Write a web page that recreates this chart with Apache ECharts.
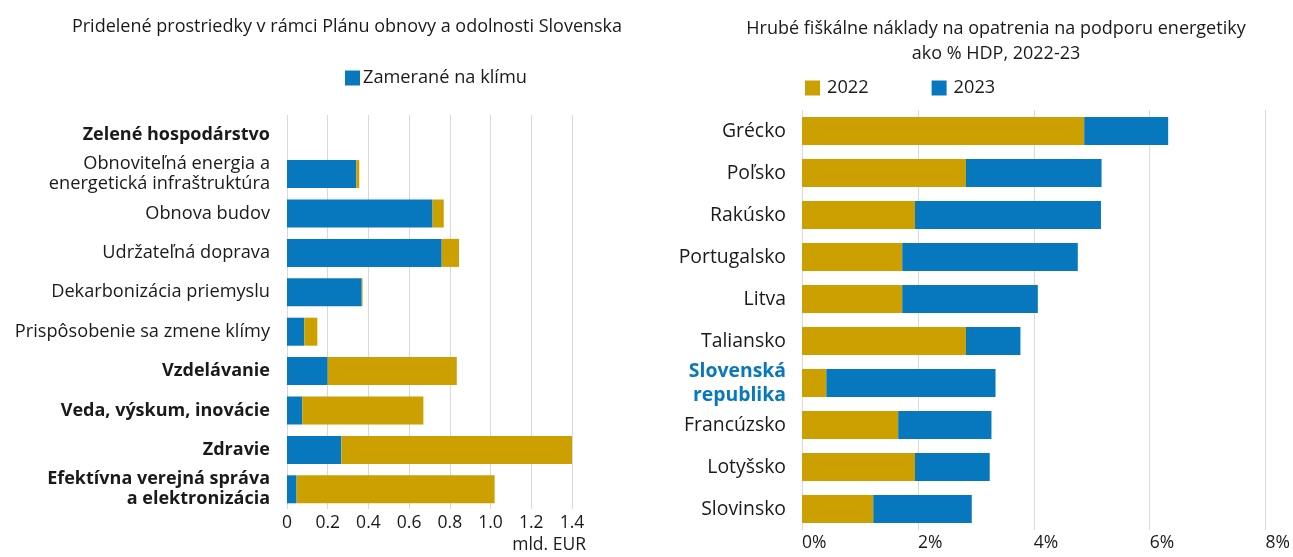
<!DOCTYPE html>
<html>
<head>
<meta charset="utf-8">
<script src="https://cdn.jsdelivr.net/npm/echarts@6/dist/echarts.min.js"></script>
<style>
  html, body { margin: 0; padding: 0; background: #fff; }
  #chart { width: 1293px; height: 557px; }
</style>
</head>
<body>
<div id="chart"></div>
<script>
// ľavý graf - Plán obnovy
const plnKategorie = [
  'Zelené hospodárstvo',
  'Obnoviteľná energia a\nenergetická infraštruktúra',
  'Obnova budov',
  'Udržateľná doprava',
  'Dekarbonizácia priemyslu',
  'Prispôsobenie sa zmene klímy',
  'Vzdelávanie',
  'Veda, výskum, inovácie',
  'Zdravie',
  'Efektívna verejná správa\na elektronizácia'
]
const tucneKategorie = ['Zelené hospodárstvo', 'Vzdelávanie', 'Veda, výskum, inovácie', 'Zdravie', 'Efektívna verejná správa\na elektronizácia']
const klima = [null, 0.34, 0.715, 0.76, 0.367, 0.085, 0.2, 0.075, 0.267, 0.047]
const ostatne = [null, 0.015, 0.055, 0.085, 0.004, 0.064, 0.634, 0.595, 1.135, 0.973]
const plnTicks = [0, 0.2, 0.4, 0.6, 0.8, 1.0, 1.2, 1.4]

// pravý graf - energetika
const krajiny = ['Grécko', 'Poľsko', 'Rakúsko', 'Portugalsko', 'Litva', 'Taliansko', 'Slovenská\nrepublika', 'Francúzsko', 'Lotyšsko', 'Slovinsko']
const rok2022 = [4.87, 2.83, 1.95, 1.73, 1.73, 2.83, 0.42, 1.66, 1.95, 1.23]
const rok2023 = [1.45, 2.34, 3.21, 3.03, 2.34, 0.94, 2.92, 1.61, 1.29, 1.70]
const energTicks = [0, 2, 4, 6, 8]

const BLUE = '#0878be'
const GOLD = '#cca000'
const FONT = 'Open Sans'
const TXT = '#1a1a1a'

const chart = echarts.init(document.getElementById('chart'))

const option = {
  textStyle: { fontFamily: FONT, color: TXT },
  animation: false,
  title: [
    {
      text: 'Pridelené prostriedky v rámci Plánu obnovy a odolnosti Slovenska',
      left: 342, top: 13, textAlign: 'center',
      textStyle: { fontSize: 18, fontWeight: 'normal', color: TXT, fontFamily: FONT }
    },
    {
      text: 'Hrubé fiškálne náklady na opatrenia na podporu energetiky\nako % HDP, 2022-23',
      left: 991, top: 11, textAlign: 'center',
      textStyle: { fontSize: 18, fontWeight: 'normal', color: TXT, fontFamily: FONT, lineHeight: 25 }
    }
  ],
  legend: [
    {
      data: ['Zamerané na klímu'],
      left: 340, top: 64,
      itemWidth: 15, itemHeight: 15, icon: 'rect',
      textStyle: { fontSize: 18.2, color: TXT, fontFamily: FONT, padding: [0, 0, 0, -2] }
    },
    {
      data: ['2022', '2023'],
      left: 800, top: 74,
      itemWidth: 15, itemHeight: 15, icon: 'rect', itemGap: 63,
      textStyle: { fontSize: 18.2, color: TXT, fontFamily: FONT, padding: [0, 0, 0, 2] }
    }
  ],
  grid: [
    { left: 287, right: 721, top: 115, height: 394 },
    { left: 802, right: 21, top: 110, height: 420 }
  ],
  xAxis: [
    {
      gridIndex: 0, type: 'value', min: 0, max: 1.4, interval: 0.2,
      axisLine: { show: false }, axisTick: { show: false },
      splitLine: { lineStyle: { color: '#d9d9d9', width: 1 } },
      axisLabel: {
        fontSize: 17.5, color: TXT, margin: 5,
        formatter: v => (v === 0 ? '0' : v.toFixed(1))
      }
    },
    {
      gridIndex: 1, type: 'value', min: 0, max: 8, interval: 2,
      axisLine: { show: false }, axisTick: { show: false },
      splitLine: { lineStyle: { color: '#d9d9d9', width: 1 } },
      axisLabel: { fontSize: 17.5, color: TXT, margin: 4, align: 'left', formatter: '{value}%' }
    }
  ],
  yAxis: [
    {
      gridIndex: 0, type: 'category', data: plnKategorie, inverse: true,
      axisLine: { show: false }, axisTick: { show: false },
      axisLabel: {
        margin: 17, fontSize: 18.2, lineHeight: 20, color: TXT,
        formatter: v => (tucneKategorie.includes(v) ? '{b|' + v.split('\n').join('}\n{b|') + '}' : v),
        rich: { b: { fontWeight: 'bold', fontSize: 18, lineHeight: 20, fontFamily: FONT, color: TXT } }
      }
    },
    {
      gridIndex: 1, type: 'category', data: krajiny, inverse: true,
      axisLine: { show: false }, axisTick: { show: false },
      axisLabel: {
        margin: 16, fontSize: 19.4, lineHeight: 24, color: TXT,
        formatter: v => (v.startsWith('Slovensk') ? '{sk|' + v.split('\n').join('}\n{sk|') + '}' : v),
        rich: { sk: { fontWeight: 'bold', fontSize: 19.4, lineHeight: 24, fontFamily: FONT, color: BLUE } }
      }
    }
  ],
  series: [
    {
      name: 'Zamerané na klímu', type: 'bar', stack: 'pln',
      xAxisIndex: 0, yAxisIndex: 0, barWidth: 28,
      itemStyle: { color: BLUE }, data: klima
    },
    {
      name: 'Ostatné', type: 'bar', stack: 'pln',
      xAxisIndex: 0, yAxisIndex: 0, barWidth: 28,
      itemStyle: { color: GOLD }, data: ostatne
    },
    {
      name: '2022', type: 'bar', stack: 'en',
      xAxisIndex: 1, yAxisIndex: 1, barWidth: 28,
      itemStyle: { color: GOLD }, data: rok2022
    },
    {
      name: '2023', type: 'bar', stack: 'en',
      xAxisIndex: 1, yAxisIndex: 1, barWidth: 28,
      itemStyle: { color: BLUE }, data: rok2023
    }
  ],
  graphic: [
    {
      type: 'text', right: 1293 - 586, top: 536,
      style: { text: 'mld. EUR', fontSize: 17.5, fontFamily: FONT, fill: TXT }
    }
  ]
}

chart.setOption(option)
window.addEventListener('resize', () => {
  chart.resize()
})
</script>
</body>
</html>
